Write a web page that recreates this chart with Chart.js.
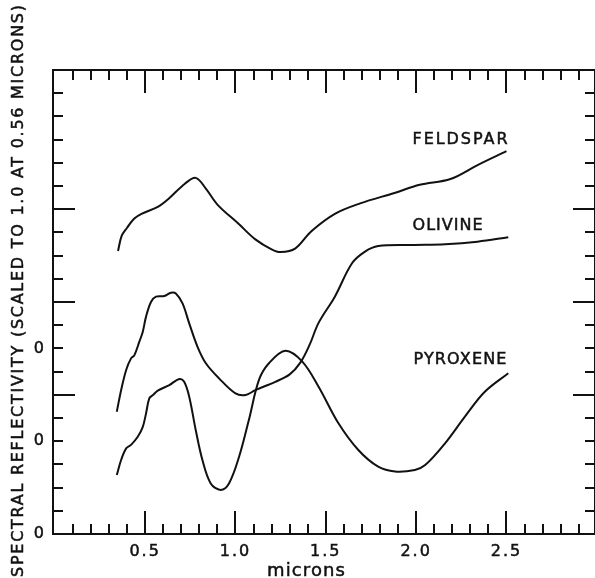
<!DOCTYPE html>
<html>
<head>
<meta charset="utf-8">
<script src="https://cdn.jsdelivr.net/npm/chart.js@4.4.1/dist/chart.umd.min.js"></script>
<style>
  html, body { margin: 0; padding: 0; background: #fff; }
  canvas { display: block; }
</style>
</head>
<body>
<canvas id="chart" width="595" height="578"></canvas>
<script>
// wavelength in microns, height in y-tick steps (each curve sits on its own zero: 8, 4, 0)
const feldsparWl = [0.35, 0.37, 0.40, 0.44, 0.48, 0.57, 0.63, 0.72, 0.78, 0.835, 0.90, 1.02, 1.11, 1.20, 1.25, 1.33, 1.42, 1.55, 1.69, 1.88, 2.02, 2.19, 2.34, 2.50];
const feldsparR  = [12.2, 12.85, 13.2, 13.6, 13.8, 14.1, 14.45, 15.1, 15.35, 14.9, 14.2, 13.35, 12.7, 12.27, 12.15, 12.3, 13.05, 13.8, 14.25, 14.7, 15.05, 15.3, 15.9, 16.5];

const olivineWl = [0.343, 0.367, 0.395, 0.422, 0.44, 0.468, 0.487, 0.505, 0.533, 0.56, 0.606, 0.643, 0.67, 0.707, 0.744, 0.79, 0.836, 0.909, 1.0, 1.056, 1.11, 1.22, 1.30, 1.36, 1.41, 1.46, 1.55, 1.645, 1.717, 1.79, 1.975, 2.16, 2.34, 2.51];
const olivineR  = [5.27, 6.2, 7.07, 7.57, 7.7, 8.29, 8.72, 9.37, 10.01, 10.23, 10.26, 10.4, 10.37, 9.94, 9.08, 8.07, 7.36, 6.71, 6.06, 5.99, 6.2, 6.56, 6.88, 7.4, 8.15, 9.1, 10.23, 11.67, 12.17, 12.41, 12.46, 12.49, 12.6, 12.79];

const pyroxeneWl = [0.343, 0.367, 0.395, 0.422, 0.459, 0.487, 0.505, 0.523, 0.543, 0.57, 0.634, 0.689, 0.716, 0.744, 0.78, 0.817, 0.863, 0.918, 0.964, 1.02, 1.074, 1.13, 1.185, 1.277, 1.37, 1.46, 1.57, 1.68, 1.79, 1.883, 1.993, 2.05, 2.16, 2.27, 2.38, 2.51];
const pyroxeneR  = [2.54, 3.19, 3.69, 3.84, 4.19, 4.62, 5.2, 5.85, 5.99, 6.18, 6.42, 6.68, 6.56, 5.92, 4.48, 3.19, 2.18, 1.9, 2.18, 3.33, 4.91, 6.64, 7.36, 7.9, 7.43, 6.35, 4.77, 3.62, 2.9, 2.69, 2.76, 2.97, 3.91, 5.06, 6.13, 6.93];

const curveNames = ['FELDSPAR', 'OLIVINE', 'PYROXENE'];
const nameWl = [1.98, 1.98, 1.985];
const nameLevel = [16.98, 13.3, 7.5];

const xLabelValues = [0.5, 1.0, 1.5, 2.0, 2.5];
const xTickLabels = ['0.5', '1.0', '1.5', '2.0', '2.5'];
const yLabelValues = [0, 4, 8];
const yTickLabels = ['0', '0', '0'];
const yLongTicks = [6, 10, 14];

const xTitle = 'microns';
const yTitle = 'SPECTRAL REFLECTIVITY (SCALED TO 1.0 AT 0.56 MICRONS)';

const ink = '#111';
const fontFamily = "'DejaVu Sans', 'Liberation Sans', sans-serif";

function toPoints(xs, ys) {
    return xs.map((x, i) => ({x: x, y: ys[i]}));
}

// stretch text to a given width with letter spacing, like the hand lettering
function spacedText(ctx, text, x, y, width) {
    ctx.letterSpacing = '0px';
    const w = ctx.measureText(text).width;
    ctx.letterSpacing = ((width - w) / (text.length - 1)) + 'px';
    ctx.fillText(text, x, y);
    ctx.strokeText(text, x, y);
}

const frameAndText = {
    id: 'frameAndText',
    beforeDraw(chart) {
        chart.ctx.letterSpacing = '2px';
    },
    afterDraw(chart) {
        const ctx = chart.ctx;
        const a = chart.chartArea;
        const x = chart.scales.x;
        const y = chart.scales.y;

        ctx.save();
        ctx.strokeStyle = ink;
        ctx.lineWidth = 2;
        ctx.beginPath();
        ctx.rect(a.left, a.top, a.right - a.left, a.bottom - a.top);
        ctx.stroke();

        // inward ticks, every 0.1 micron, longer at every 0.5
        ctx.beginPath();
        for (let i = 1; i < 30; i++) {
            const px = Math.round(x.getPixelForValue(i / 10));
            const len = i % 5 === 0 ? 23 : 10;
            ctx.moveTo(px, a.bottom); ctx.lineTo(px, a.bottom - len);
            ctx.moveTo(px, a.top); ctx.lineTo(px, a.top + len);
        }
        for (let i = 1; i < 20; i++) {
            const py = Math.round(y.getPixelForValue(i));
            const len = yLongTicks.includes(i) ? 22 : 10;
            ctx.moveTo(a.left, py); ctx.lineTo(a.left + len, py);
            ctx.moveTo(a.right, py); ctx.lineTo(a.right - len, py);
        }
        ctx.stroke();

        ctx.fillStyle = ink;
        ctx.lineWidth = 0.5;
        ctx.textAlign = 'left';
        ctx.textBaseline = 'middle';

        ctx.font = '16px ' + fontFamily;
        const nameWidths = [95, 70, 93];
        curveNames.forEach((name, i) => {
            spacedText(ctx, name, x.getPixelForValue(nameWl[i]), y.getPixelForValue(nameLevel[i]), nameWidths[i]);
        });

        ctx.font = '18px ' + fontFamily;
        ctx.textBaseline = 'alphabetic';
        spacedText(ctx, xTitle, 267, 576, 78);

        ctx.translate(19, 577);
        ctx.rotate(-Math.PI / 2);
        ctx.font = '16px ' + fontFamily;
        ctx.textBaseline = 'middle';
        spacedText(ctx, yTitle, 0, 0, 572);
        ctx.restore();
    }
};

const lineStyle = {
    borderColor: ink,
    borderWidth: 2,
    pointRadius: 0,
    fill: false,
    tension: 0.35
};

const tickText = {
    autoSkip: false,
    color: ink,
    textStrokeColor: ink,
    textStrokeWidth: 0.5,
    font: {family: fontFamily, size: 16}
};

new Chart(document.getElementById('chart'), {
    type: 'line',
    data: {
        datasets: [
            Object.assign({label: 'Feldspar', data: toPoints(feldsparWl, feldsparR)}, lineStyle),
            Object.assign({label: 'Olivine', data: toPoints(olivineWl, olivineR)}, lineStyle),
            Object.assign({label: 'Pyroxene', data: toPoints(pyroxeneWl, pyroxeneR)}, lineStyle)
        ]
    },
    options: {
        responsive: false,
        animation: false,
        layout: {padding: {top: 70, right: -2, left: 0, bottom: 0}},
        plugins: {
            legend: {display: false},
            tooltip: {enabled: false}
        },
        scales: {
            x: {
                type: 'linear',
                min: -0.01,
                max: 2.99,
                grid: {display: false, drawTicks: false},
                border: {display: false},
                afterBuildTicks: (s) => { s.ticks = xLabelValues.map(v => ({value: v})); },
                afterFit: (s) => { s.height = 44; },
                ticks: Object.assign({
                    maxRotation: 0,
                    padding: 8,
                    callback: (v, i) => xTickLabels[i]
                }, tickText)
            },
            y: {
                type: 'linear',
                min: 0,
                max: 20,
                grid: {display: false, drawTicks: false},
                border: {display: false},
                afterBuildTicks: (s) => { s.ticks = yLabelValues.map(v => ({value: v})); },
                afterFit: (s) => { s.width = 53; },
                ticks: Object.assign({
                    padding: 7,
                    callback: (v, i) => yTickLabels[i]
                }, tickText)
            }
        }
    },
    plugins: [frameAndText]
});
</script>
</body>
</html>
